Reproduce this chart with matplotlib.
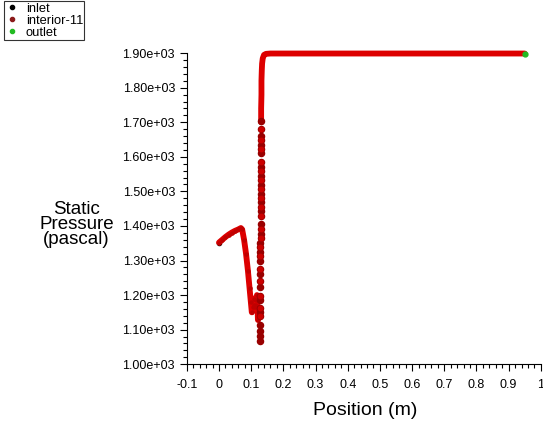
import matplotlib.pyplot as plt
from matplotlib.lines import Line2D
from matplotlib.ticker import MultipleLocator, FixedLocator

plt.rcParams['font.family'] = ['Liberation Sans', 'DejaVu Sans']

# interior-11 : lower trace (inlet region down into the dip)
low_x = [0.0, 0.01, 0.02, 0.03, 0.04, 0.05, 0.06, 0.068, 0.072, 0.078,
         0.084, 0.09, 0.095, 0.099, 0.102, 0.105, 0.108, 0.110, 0.112,
         0.114, 0.116, 0.118, 0.120, 0.121]
low_y = [1352, 1360, 1368, 1375, 1381, 1386, 1390, 1394, 1390, 1360,
         1320, 1270, 1220, 1180, 1150, 1165, 1190, 1170, 1165,
         1170, 1185, 1200, 1160, 1128]

# interior-11 : upper trace (top of the step and plateau)
up_x = [0.131, 0.131, 0.132, 0.132, 0.133, 0.134, 0.136, 0.140, 0.146,
        0.16, 0.2, 0.3, 0.4, 0.5, 0.6, 0.7, 0.8, 0.9, 0.95]
up_y = [1700, 1740, 1780, 1820, 1850, 1870, 1885, 1895, 1898,
        1899, 1899, 1899, 1899, 1899, 1899, 1899, 1899, 1899, 1899]

# interior-11 : nodes stacked along the step
col_x = [0.127, 0.127, 0.127, 0.127, 0.128, 0.128, 0.128, 0.128, 0.128,
         0.128, 0.128, 0.129, 0.129, 0.129, 0.129, 0.129, 0.129, 0.129,
         0.130, 0.130, 0.130, 0.130, 0.130, 0.130, 0.130, 0.130, 0.131,
         0.131, 0.131, 0.131, 0.131, 0.131, 0.131, 0.131, 0.131, 0.131,
         0.131, 0.132, 0.132, 0.132, 0.132, 0.132]
col_y = [1068, 1082, 1097, 1112, 1140, 1152, 1163, 1185, 1198, 1222,
         1240, 1262, 1275, 1300, 1312, 1325, 1338, 1352, 1365, 1378,
         1392, 1405, 1430, 1442, 1455, 1468, 1480, 1493, 1506, 1519,
         1532, 1545, 1558, 1571, 1584, 1610, 1622, 1635, 1648, 1660,
         1680, 1705]

inlet_x = [0.0]
inlet_y = [1352]
outlet_x = [0.95]
outlet_y = [1899]

y_ticks = [1000, 1100, 1200, 1300, 1400, 1500, 1600, 1700, 1800, 1900]
x_ticks = [-0.1, 0, 0.1, 0.2, 0.3, 0.4, 0.5, 0.6, 0.7, 0.8, 0.9, 1]

fig = plt.figure(figsize=(5.43, 4.22), dpi=100)
ax = fig.add_axes([0.344, 0.137, 0.652, 0.737])

red = '#dd0000'
dark = '#990000'
ax.plot(inlet_x, inlet_y, 'o', color='black', ms=3, zorder=2)
for xs, ys in [(low_x, low_y), (up_x, up_y)]:
    ax.plot(xs, ys, '-', color=red, lw=4.2, solid_capstyle='round',
            solid_joinstyle='round', zorder=3, clip_on=False)
ax.plot(low_x, low_y, 'o', color='#c00000', ms=2.2, zorder=4)
ax.plot(col_x, col_y, 'o', color=dark, ms=4.4, mec=dark, zorder=4)
ax.plot(col_x[4::2], col_y[4::2], 'o', color='#cc0000', ms=3.2, mec='#cc0000',
        zorder=4)
ax.plot(outlet_x, outlet_y, 'o', color='#22bb22', ms=3.5, zorder=5, clip_on=False)

ax.set_xlim(-0.1, 1.0)
ax.set_ylim(1000, 1900)
ax.spines['top'].set_visible(False)
ax.spines['right'].set_visible(False)
ax.xaxis.set_major_locator(FixedLocator(x_ticks))
ax.set_xticklabels([f'{v:g}' for v in x_ticks])
ax.xaxis.set_minor_locator(MultipleLocator(0.02))
ax.yaxis.set_major_locator(FixedLocator(y_ticks))
ax.set_yticklabels([f'{v/1000:.2f}e+03' for v in y_ticks])
ax.yaxis.set_minor_locator(MultipleLocator(20))
ax.tick_params(which='major', length=5, width=0.8, labelsize=9)
ax.tick_params(which='minor', length=3, width=0.8)
ax.tick_params(axis='x', pad=6)

fig.text(0.672, 0.028, 'Position (m)', ha='center', va='center', fontsize=14)
fig.text(0.141, 0.469, 'Static\nPressure\n(pascal)', ha='center', va='center',
         fontsize=13.5, linespacing=0.85, multialignment='center')

handles = [Line2D([], [], ls='', marker='o', color='black', ms=3),
           Line2D([], [], ls='', marker='o', color='#8b1a1a', ms=3),
           Line2D([], [], ls='', marker='o', color='#22bb22', ms=3)]
leg = fig.legend(handles, ['inlet', 'interior-11', 'outlet'],
                 loc='upper left', bbox_to_anchor=(0.007, 0.997),
                 fontsize=9.3, frameon=True, fancybox=False, handlelength=1.0,
                 handletextpad=0.6, labelspacing=0.0, borderpad=0.1,
                 borderaxespad=0)
leg.get_frame().set_edgecolor('black')
leg.get_frame().set_linewidth(0.8)

fig.savefig('out.png', dpi=100)
